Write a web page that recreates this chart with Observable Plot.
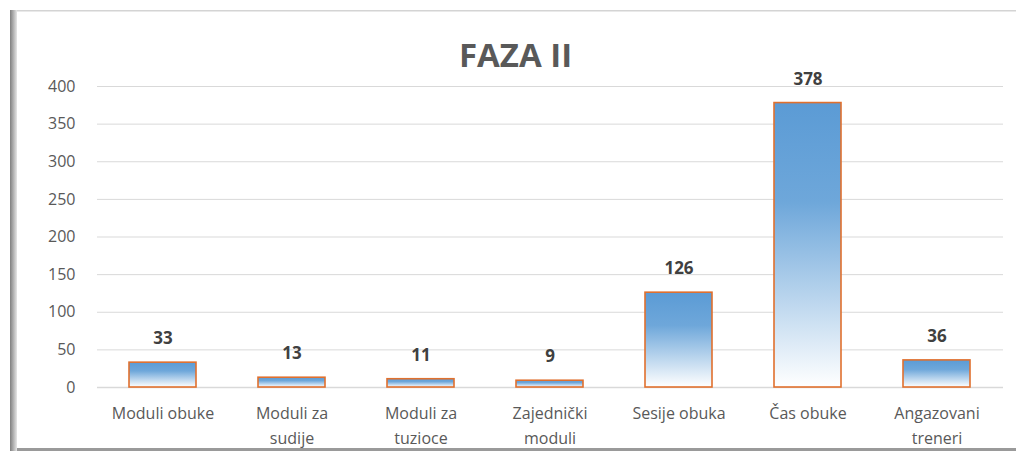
<!DOCTYPE html>
<html>
<head>
<meta charset="utf-8">
<script src="https://cdn.jsdelivr.net/npm/d3@7"></script>
<script src="https://cdn.jsdelivr.net/npm/@observablehq/plot@0.6"></script>
<style>
  html, body { margin: 0; padding: 0; background: #fff; }
  #chart svg { display: block; }
</style>
</head>
<body>
<div id="chart"></div>
<script>
const title = "FAZA II";
const categories = ["Moduli obuke", "Moduli za\nsudije", "Moduli za\ntuzioce", "Zajednički\nmoduli", "Sesije obuka", "Čas obuke", "Angazovani\ntreneri"];
const values = [33, 13, 11, 9, 126, 378, 36];
const yTicks = [0, 50, 100, 150, 200, 250, 300, 350, 400];

const data = categories.map((c, i) => ({category: c, value: values[i]}));
const FONT = "'Open Sans', Lato, sans-serif";

const chart = Plot.plot({
  width: 1016,
  height: 453,
  marginLeft: 97,
  marginRight: 13,
  marginTop: 86,
  marginBottom: 66,
  style: {fontFamily: FONT, fontSize: "16px", color: "#595959", background: "#fff"},
  x: {domain: categories, paddingInner: 0.48, paddingOuter: 0.24, label: null},
  y: {domain: [0, 400], label: null},
  marks: [
    Plot.gridY(yTicks, {stroke: "#d9d9d9", strokeOpacity: 1, strokeWidth: 1}),
    Plot.axisY(yTicks, {tickSize: 0, tickPadding: 22, label: null, fill: "#595959", fontSize: 16, letterSpacing: 0.6}),
    Plot.axisX({tickSize: 0, tickPadding: 14, label: null, fill: "#595959", fontSize: 16, lineHeight: 1.56, lineAnchor: "top", letterSpacing: 0.9}),
    Plot.ruleY([0], {stroke: "#d9d9d9", strokeWidth: 1.5}),
    Plot.barY(data, {x: "category", y: "value", fill: "url(#barGrad)", stroke: "#e0702e", strokeWidth: 1.6}),
    Plot.text(data, {x: "category", y: "value", text: d => String(d.value), dy: -24, fill: "#404040", fontWeight: "bold", fontSize: 17, letterSpacing: 0.4}),
    Plot.text([title], {frameAnchor: "top", dx: -35, dy: -43, fill: "#595959", fontWeight: "bold", fontSize: 33, fontFamily: FONT})
  ]
});

const svg = d3.select(chart);
const defs = svg.insert("defs", ":first-child");
const g = defs.append("linearGradient").attr("id", "barGrad").attr("x1", 0).attr("y1", 0).attr("x2", 0).attr("y2", 1);
g.append("stop").attr("offset", "0%").attr("stop-color", "#5b9bd5");
g.append("stop").attr("offset", "35%").attr("stop-color", "#6ea7da");
g.append("stop").attr("offset", "100%").attr("stop-color", "#ffffff");

const lg = defs.append("linearGradient").attr("id", "leftEdge").attr("x1", 0).attr("y1", 0).attr("x2", 1).attr("y2", 0);
lg.append("stop").attr("offset", "0%").attr("stop-color", "#7f7f7f");
lg.append("stop").attr("offset", "100%").attr("stop-color", "#e6e6e6");

const frame = svg.append("g");
frame.append("rect").attr("x", 12).attr("y", 10).attr("width", 1004).attr("height", 1.5).attr("fill", "#d4d4d4");
frame.append("rect").attr("x", 10).attr("y", 448).attr("width", 1006).attr("height", 3).attr("fill", "#9a9a9a");
frame.append("rect").attr("x", 10).attr("y", 10).attr("width", 7).attr("height", 441).attr("fill", "url(#leftEdge)");

document.getElementById("chart").appendChild(chart);
</script>
</body>
</html>
